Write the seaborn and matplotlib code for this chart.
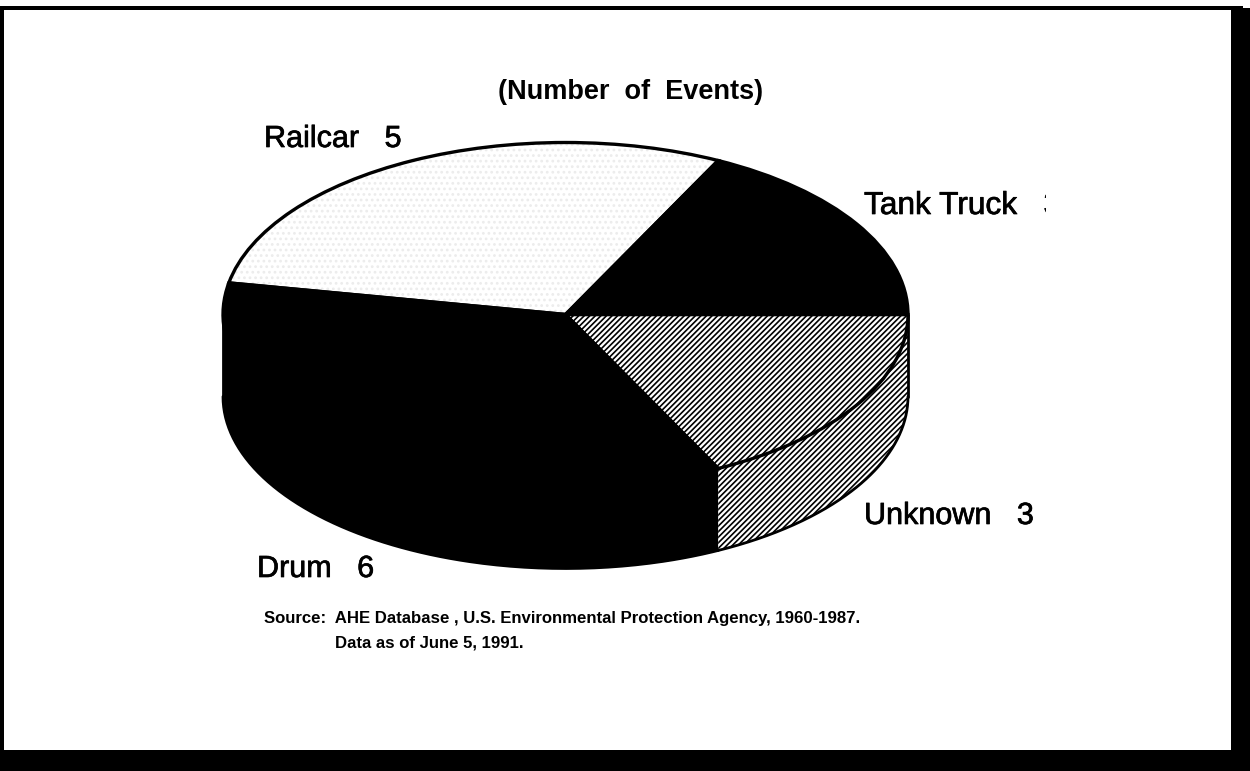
import numpy as np
import matplotlib
matplotlib.use("Agg")
import matplotlib.pyplot as plt
import matplotlib.patheffects as pe
from matplotlib.patches import Rectangle
from matplotlib.transforms import Affine2D
import seaborn as sns

categories = ["Tank Truck", "Railcar", "Drum", "Unknown"]
events = [3, 5, 6, 3]
label_gaps = ["   ", "   ", "   ", "   "]
label_sizes = [22.8, 22, 22, 22]
label_px = [(864, 214), (264, 147), (257, 577), (864, 524)]
title = "(Number  of  Events)"
source_lines = ["Source:  AHE Database , U.S. Environmental Protection Agency, 1960-1987.",
                "Data as of June 5, 1991."]

W, H = 1250, 771
sns.set_theme(style="white")
plt.rcParams["font.family"] = ["Liberation Sans", "DejaVu Sans"]
plt.rcParams["hatch.linewidth"] = 1.2

fig = plt.figure(figsize=(W / 100, H / 100), dpi=100, facecolor="white")
ax = fig.add_axes([0, 0, 1, 1])

cx, cy, rx, ry, depth = 565.5, 314.5, 342.5, 172, 82
faces = ["black", "white", "black", "white"]
edges = ["black", "#ececec", "black", "black"]
hatches = [None, "...", None, "/" * 6]

# side walls of the lower half, one per slice
bounds = np.r_[0, np.cumsum(events)] / np.sum(events) * 360
for i, cat in enumerate(categories):
    lo, hi = max(bounds[i], 180), bounds[i + 1]
    if hi <= lo:
        continue
    t = np.radians(np.linspace(lo, hi, 200))
    ax.fill_between(np.cos(t), np.sin(t), np.sin(t) - depth / ry,
                    facecolor=faces[i], edgecolor="black", hatch=hatches[i],
                    linewidth=0, zorder=1)
    ax.plot(np.cos(t), np.sin(t) - depth / ry, color="black", lw=2, zorder=2)
# left and right silhouette
ax.plot([-1, -1], [0, -depth / ry], color="black", lw=2, zorder=2)
ax.plot([1, 1], [0, -depth / ry], color="black", lw=2, zorder=2)

# top face, then its black outline
ax.pie(events, startangle=0, counterclock=True, colors=faces, hatch=hatches,
       wedgeprops=dict(edgecolor="none", linewidth=0, zorder=3))
for w, e in zip(ax.patches[-4:], edges):
    w.set_edgecolor(e)
ax.pie(events, startangle=0, counterclock=True,
       wedgeprops=dict(fill=False, edgecolor="black", linewidth=2.4, zorder=4))

ax.set_aspect("auto")
ax.set_xlim((0 - cx) / rx, (W - cx) / rx)
ax.set_ylim((cy - H) / ry, cy / ry)
ax.axis("off")


def px():
    return Affine2D().scale(1 / W, -1 / H).translate(0, 1) + fig.transFigure


T = px()
ink = [pe.withStroke(linewidth=0.5, foreground="black")]
clip = Rectangle((0, 0), 1046, H, transform=T)
for cat, v, gap, fs, (x, y) in zip(categories, events, label_gaps, label_sizes, label_px):
    s = fig.text(x, y, f"{cat}{gap}{v}", transform=T, fontsize=fs, color="black",
                 ha="left", va="baseline", zorder=6, path_effects=ink)
    s.set_clip_path(clip)
    s.set_clip_on(True)

fig.text(631, 99, title, transform=T, fontsize=19.5, fontweight="bold",
         color="black", ha="center", va="baseline")
fig.text(264, 623, source_lines[0], transform=T, fontsize=12.1, fontweight="bold",
         color="black", ha="left", va="baseline")
fig.text(335, 647, source_lines[1], transform=T, fontsize=12.1, fontweight="bold",
         color="black", ha="left", va="baseline")

# scanned page frame
for x0, y0, w, h in [(0, 6, 1243, 4), (1243, 8, 7, 2), (0, 6, 4, H - 6),
                     (1231, 8, 19, H - 8), (0, 750, W, 21)]:
    fig.add_artist(Rectangle((x0, y0), w, h, transform=T, facecolor="black",
                             edgecolor="none", zorder=10))

fig.savefig("out.png", dpi=100, facecolor="white")
